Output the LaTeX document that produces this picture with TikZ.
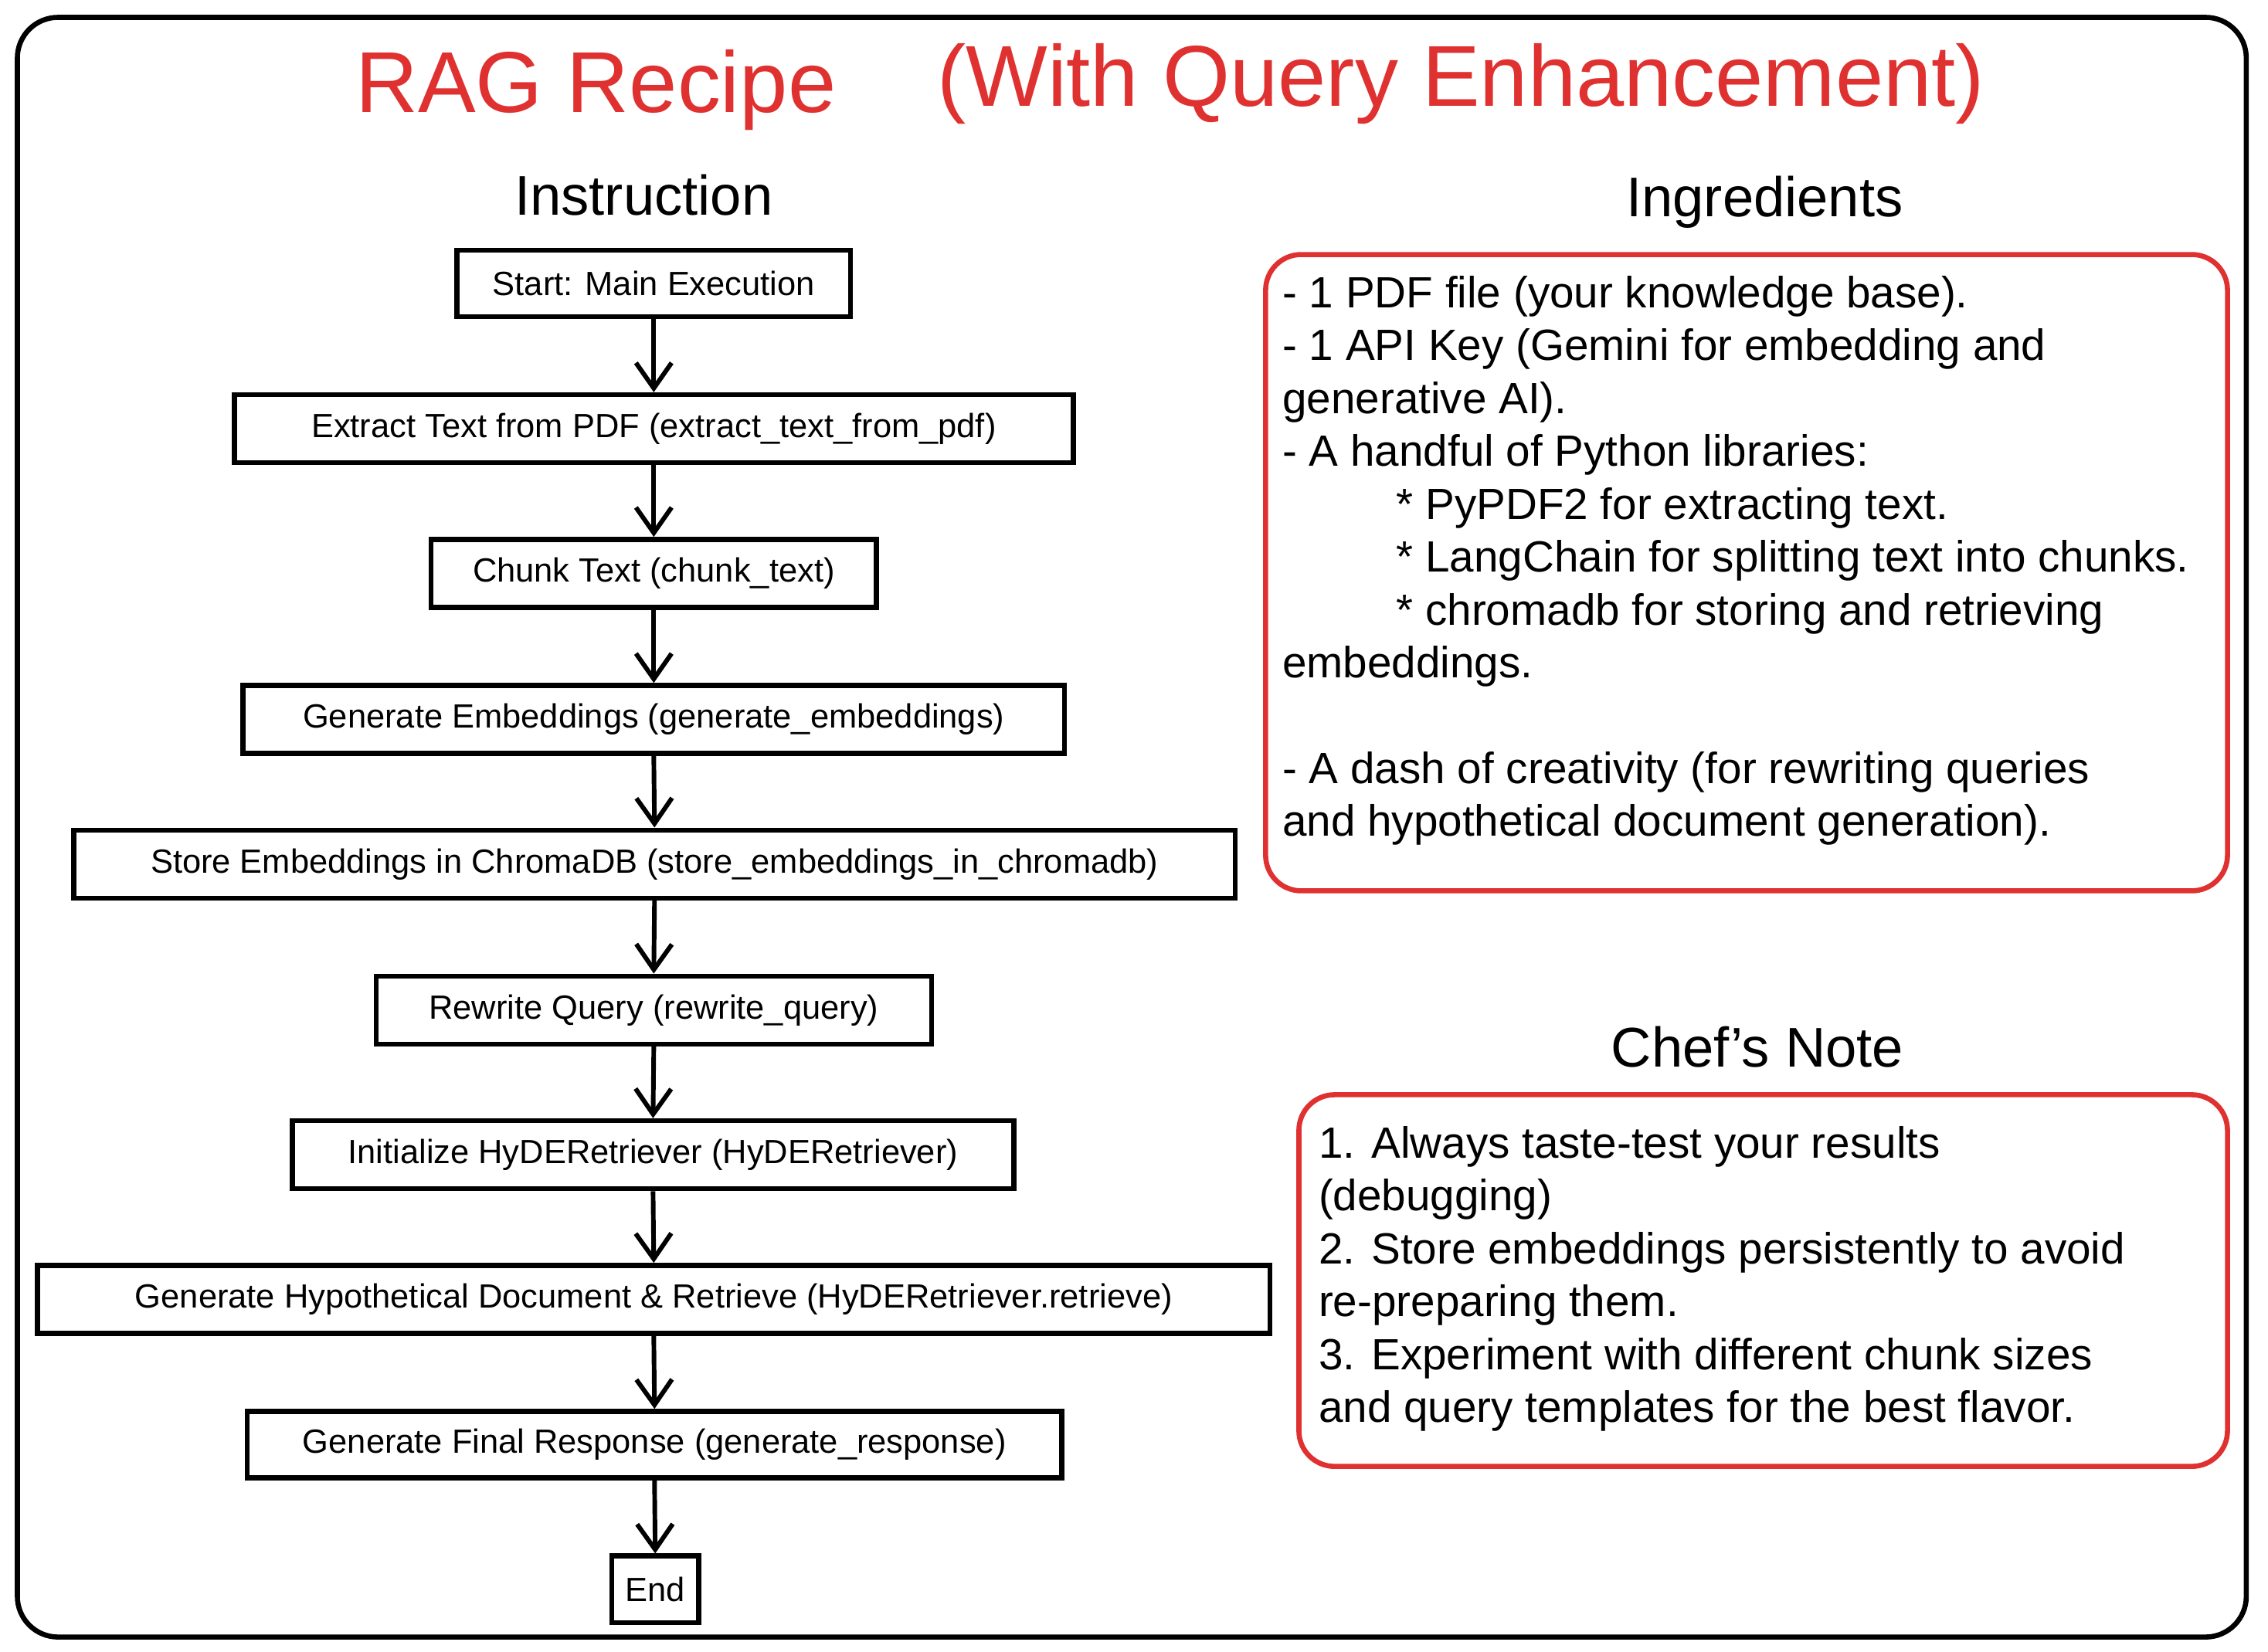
\documentclass[tikz,border=0pt]{standalone}
\usepackage{fontspec}
\setmainfont{Liberation Sans}
\usetikzlibrary{arrows.meta}
\definecolor{rd}{HTML}{E03131}
\begin{document}
\begin{tikzpicture}[x=0.01cm,y=-0.01cm,
  box/.style={draw,line width=1pt,inner sep=0,font=\fontsize{6.6}{7}\selectfont},
  arr/.style={-{Straight Barb[length=5pt,width=7pt]},line width=0.9pt},
  head/.style={font=\fontsize{11}{13}\selectfont},
  txt/.style={font=\fontsize{8.6}{10.4}\selectfont,align=left,anchor=north west,inner sep=0}]
\useasboundingbox (0,0) rectangle (1568,1142);
\draw[line width=1pt,rounded corners=8pt] (12,12) rectangle (1553,1132);
\node[text=rd,font=\fontsize{17}{20}\selectfont] (t1) at (412,62) {RAG Recipe};
\node[text=rd,font=\fontsize{17}{20}\selectfont] (t2) at (1010,58) {(With Query Enhancement)};
\node[head] (hi) at (445,135) {Instruction};
\node[head] (hg) at (1220,140) {Ingredients};
\node[head] (hc) at (1215,724) {Chef's Note};
\def\bx#1#2#3#4#5#6{\node[box,minimum width=#3*0.01cm-#2*0.01cm,minimum height=#5*0.01cm-#4*0.01cm] (#1) at ({(#2+#3)/2},{(#4+#5)/2}) {#6};}
\bx{b1}{316}{588}{173}{219}{Start: Main Execution}
\bx{b2}{162}{742}{273}{320}{Extract Text from PDF (extract\_text\_from\_pdf)}
\bx{b3}{298}{606}{373}{420}{Chunk Text (chunk\_text)}
\bx{b4}{168}{736}{474}{521}{Generate Embeddings (generate\_embeddings)}
\bx{b5}{51}{854}{574}{621}{Store Embeddings in ChromaDB (store\_embeddings\_in\_chromadb)}
\bx{b6}{260}{644}{675}{722}{Rewrite Query (rewrite\_query)}
\bx{b7}{202}{701}{775}{822}{Initialize HyDERetriever (HyDERetriever)}
\bx{b8}{26}{878}{875}{922}{Generate Hypothetical Document \& Retrieve (HyDERetriever.retrieve)}
\bx{b9}{171}{734}{976}{1022}{Generate Final Response (generate\_response)}
\bx{b10}{423}{483}{1076}{1122}{End}
\foreach \a/\b in {b1/b2,b2/b3,b3/b4,b4/b5,b5/b6,b6/b7,b7/b8,b8/b9,b9/b10}
  \draw[arr] (\a.south) -- (\b.north);
\draw[rd,line width=1pt,rounded corners=7pt] (875,176) rectangle (1540,616);
\draw[rd,line width=1pt,rounded corners=7pt] (898,757) rectangle (1540,1014);
\node[txt] (ing) at (886,190) {- 1 PDF file (your knowledge base).\\
- 1 API Key (Gemini for embedding and\\
generative AI).\\
- A handful of Python libraries:\\
\hspace*{2.6em}* PyPDF2 for extracting text.\\
\hspace*{2.6em}* LangChain for splitting text into chunks.\\
\hspace*{2.6em}* chromadb for storing and retrieving\\
embeddings.\\[10.4pt]
- A dash of creativity (for rewriting queries\\
and hypothetical document generation).};
\node[txt] (note) at (911,778) {1. Always taste-test your results\\
(debugging)\\
2. Store embeddings persistently to avoid\\
re-preparing them.\\
3. Experiment with different chunk sizes\\
and query templates for the best flavor.};
\end{tikzpicture}
\end{document}
